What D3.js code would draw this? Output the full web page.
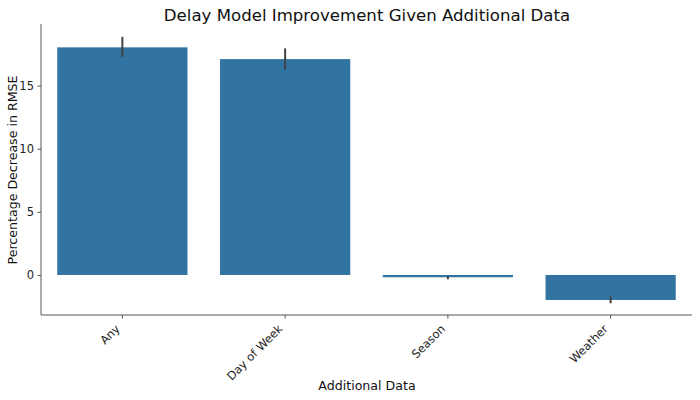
<!DOCTYPE html>
<html><head><meta charset="utf-8">
<script src="https://cdn.jsdelivr.net/npm/d3@7"></script>
<style>body{margin:0;background:#fff;} text{font-family:"DejaVu Sans",sans-serif;}</style>
</head><body><svg id="c" width="700" height="400"></svg>
<script>
const categories = ["Any", "Day of Week", "Season", "Weather"];
const values = [18.03, 17.1, -0.18, -1.98];
const errLow = [17.28, 16.29, -0.08, -1.72];
const errHigh = [18.87, 17.95, -0.34, -2.24];
const yTicks = [0, 5, 10, 15];

(function () {
const svg = d3.select("#c");
const mLeft = 41, mRight = 692, mTop = 24, mBottom = 315;
const x = d3.scaleBand().domain(categories).range([mLeft, mRight]).paddingInner(0.2).paddingOuter(0.1);
const y = d3.scaleLinear().domain([-3.17, 19.88]).range([mBottom, mTop]);

svg.append("text").attr("x", 367).attr("y", 21).attr("text-anchor", "middle")
  .attr("font-size", 16.6).attr("fill", "#111").text("Delay Model Improvement Given Additional Data");

svg.selectAll("rect.bar").data(categories).enter().append("rect")
  .attr("x", d => x(d)).attr("width", x.bandwidth())
  .attr("y", (d, i) => y(Math.max(0, values[i])))
  .attr("height", (d, i) => Math.abs(y(values[i]) - y(0)))
  .attr("fill", "#3274a1");

svg.selectAll("line.err").data(categories).enter().append("line")
  .attr("x1", d => x(d) + x.bandwidth() / 2).attr("x2", d => x(d) + x.bandwidth() / 2)
  .attr("y1", (d, i) => y(errLow[i])).attr("y2", (d, i) => y(errHigh[i]))
  .attr("stroke", "#424242").attr("stroke-width", 2);

const fs = 11.5;
const ya = svg.append("g").attr("transform", `translate(${mLeft},0)`)
  .call(d3.axisLeft(y).tickValues(yTicks).tickSize(3.5).tickPadding(3.5));
const xa = svg.append("g").attr("transform", `translate(0,${mBottom})`)
  .call(d3.axisBottom(x).tickSize(3.5).tickPadding(3.5));
[ya, xa].forEach(g => {
  g.select(".domain").attr("stroke", "#555").attr("stroke-width", 1);
  g.selectAll(".tick line").attr("stroke", "#555");
  g.selectAll("text").attr("font-size", fs).attr("fill", "#222").attr("font-family", "DejaVu Sans");
});
ya.select(".domain").attr("d", `M0,${mBottom}V${mTop}`);
xa.select(".domain").attr("d", `M${mLeft},0H${mRight}`);
const off = 0.354 * 1.164 * fs;
xa.selectAll(".tick text").attr("text-anchor", "end").attr("dy", null)
  .attr("dominant-baseline", "central").attr("y", 0)
  .attr("transform", `translate(${-off},${7 + off}) rotate(-45)`);

svg.append("text").attr("x", 367).attr("y", 390).attr("text-anchor", "middle")
  .attr("font-size", 12.6).attr("fill", "#111").text("Additional Data");
svg.append("text").attr("transform", "translate(17,170) rotate(-90)").attr("text-anchor", "middle")
  .attr("font-size", 12.6).attr("fill", "#111").text("Percentage Decrease in RMSE");
})();
</script></body></html>
